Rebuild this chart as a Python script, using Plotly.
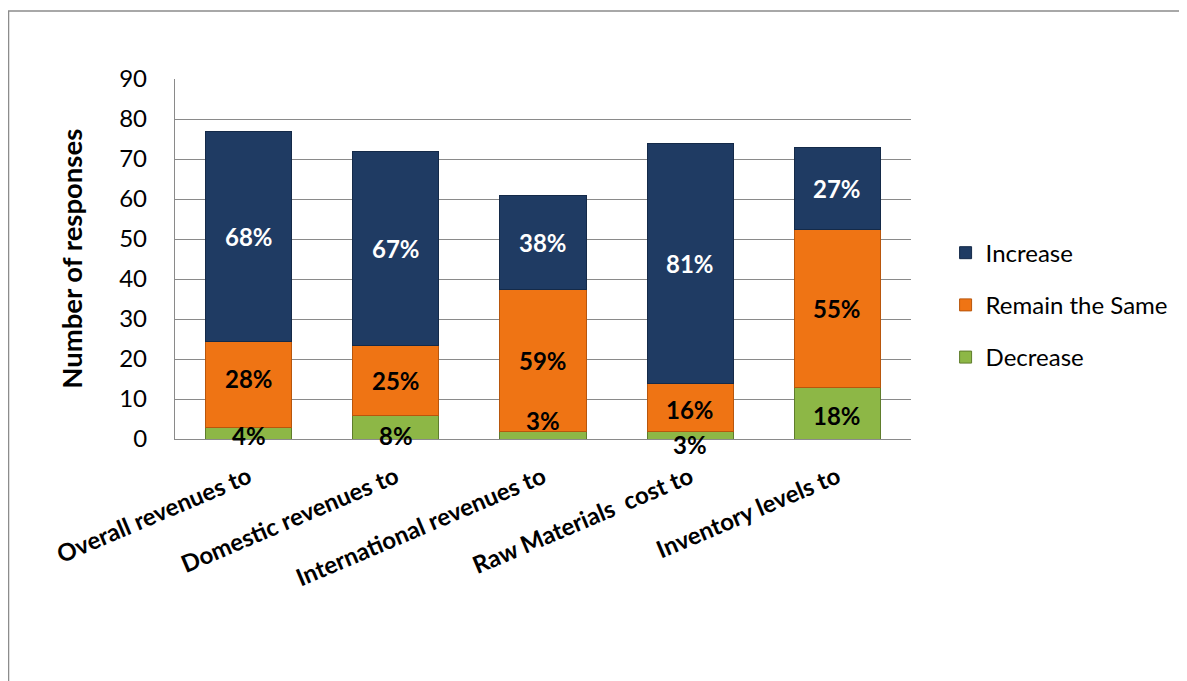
import plotly.graph_objects as go

categories = ["Overall revenues to", "Domestic revenues to", "International revenues to",
              "Raw Materials  cost to", "Inventory levels to"]
decrease = [3, 6, 2, 2, 13]
remain = [21.5, 17.5, 35.5, 12, 39.5]
increase = [52.5, 48.5, 23.5, 60, 20.5]
pct_decrease = ["4%", "8%", "3%", "3%", "18%"]
pct_remain = ["28%", "25%", "59%", "16%", "55%"]
pct_increase = ["68%", "67%", "38%", "81%", "27%"]
y_ticks = [0, 10, 20, 30, 40, 50, 60, 70, 80, 90]

# label nudges in pixels (styling only)
shift_decrease = [-2, -8, 15, -9, -2]
shift_remain = [6, 0, 0, -2, 0]

FONT = "Lato"
C_INC = "#1F3B63"
C_REM = "#EF7414"
C_DEC = "#8DB746"
LBL = 24

fig = go.Figure()
fig.add_trace(go.Bar(x=categories, y=decrease, name="Decrease", legendgroup="d", legendrank=3,
                     marker=dict(color=C_DEC, line=dict(color="#5f7d2c", width=1))))
fig.add_trace(go.Bar(x=categories, y=remain, name="Remain the Same", legendgroup="r", legendrank=2,
                     marker=dict(color=C_REM, line=dict(color="#b8560c", width=1))))
fig.add_trace(go.Bar(x=categories, y=increase, name="Increase", legendgroup="i", legendrank=1,
                     marker=dict(color=C_INC, line=dict(color="#142a49", width=1))))

annotations = []
for i, c in enumerate(categories):
    annotations.append(dict(x=c, y=decrease[i] / 2, text=pct_decrease[i], showarrow=False,
                            yshift=shift_decrease[i],
                            font=dict(family=FONT, size=LBL, color="black", weight="bold")))
    b1 = decrease[i]
    annotations.append(dict(x=c, y=b1 + remain[i] / 2, text=pct_remain[i], showarrow=False,
                            yshift=shift_remain[i],
                            font=dict(family=FONT, size=LBL, color="black", weight="bold")))
    b2 = decrease[i] + remain[i]
    annotations.append(dict(x=c, y=b2 + increase[i] / 2, text=pct_increase[i], showarrow=False,
                            font=dict(family=FONT, size=LBL, color="white", weight="bold")))

annotations.append(dict(xref="paper", yref="paper", x=-0.1416, y=0.5, xanchor="center", yanchor="middle",
                        text="Number of responses", textangle=-90, showarrow=False,
                        font=dict(family=FONT, size=27.5, color="black", weight="bold")))

fig.update_layout(
    width=1179, height=673,
    barmode="stack", bargap=0.415,
    paper_bgcolor="white", plot_bgcolor="white",
    margin=dict(l=167, r=276, t=71, b=242),
    font=dict(family=FONT, color="black"),
    showlegend=True,
    legend=dict(x=1.047, y=0.372, xanchor="left", yanchor="middle",
                traceorder="grouped", tracegroupgap=18,
                font=dict(family=FONT, size=24, color="black")),
    annotations=annotations,
    shapes=[dict(type="rect", xref="paper", yref="paper", x0=-0.2262, x1=1.5, y0=-0.8, y1=1.189,
                 line=dict(color="#8c8c8c", width=1.5), fillcolor="rgba(0,0,0,0)", layer="below")],
)
fig.update_yaxes(range=[0, 90], tickvals=y_ticks, showgrid=True, gridcolor="#8a8a8a", gridwidth=1.3,
                 showline=True, linecolor="#8a8a8a", linewidth=1.3, zeroline=False,
                 ticklabelstandoff=22, tickfont=dict(family=FONT, size=24, color="black"))
fig.update_xaxes(showline=True, linecolor="#8a8a8a", linewidth=1.3, tickangle=-23,
                 ticklabelstandoff=14,
                 tickfont=dict(family=FONT, size=24, color="black", weight="bold"))

fig.write_html("out.html")
